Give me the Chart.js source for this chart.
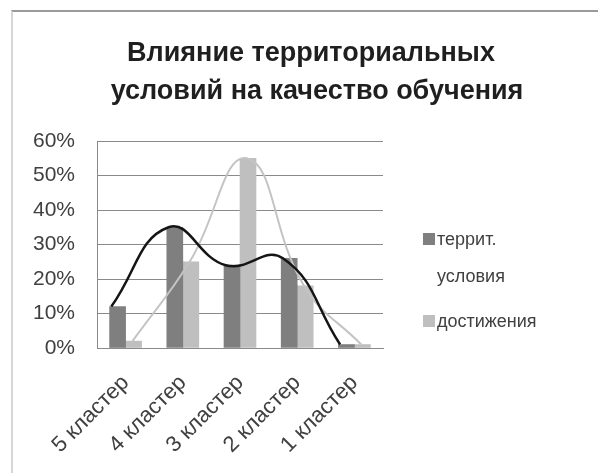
<!DOCTYPE html>
<html>
<head>
<meta charset="utf-8">
<script src="https://cdn.jsdelivr.net/npm/chart.js@4"></script>
<style>
  html, body { margin: 0; padding: 0; background: #fff; }
  #wrap { position: relative; width: 598px; height: 473px; }
  #frame {
    position: absolute; left: 11px; top: 10px; right: 0; bottom: 0;
    border-top: 2px solid #9a9a9a; border-left: 2px solid #d6d6d6;
  }
</style>
</head>
<body>
<div id="wrap">
  <div id="frame"></div>
  <canvas id="myChart" width="598" height="473"></canvas>
</div>
<script>
const categories = ["5 кластер", "4 кластер", "3 кластер", "2 кластер", "1 кластер"];
const terrValues = [12, 35, 24, 26, 1];
const achValues = [2, 25, 55, 18, 1];
const yTicks = [0, 10, 20, 30, 40, 50, 60];
const titleLines = ["Влияние территориальных", "условий на качество обучения"];
const legendLabels = [["террит.", "условия"], ["достижения"]];

const darkGray = "#7f7f7f";
const lightGray = "#bfbfbf";
const font = "'Liberation Sans', Arial, sans-serif";

// smooth lines sit a bit off the category centres, like in the picture
const darkShift = -0.25;
const lightShift = 0.12;

// title + legend drawn by hand so they are not tied to the chart area width
const decorPlugin = {
  id: "decor",
  afterDraw(chart) {
    const ctx = chart.ctx;
    ctx.save();
    ctx.fillStyle = "#1f1f1f";
    ctx.font = "bold 27px " + font;
    ctx.textAlign = "center";
    ctx.textBaseline = "middle";
    ctx.fillText(titleLines[0], 311, 54);
    ctx.fillText(titleLines[1], 317, 92);

    const colors = [darkGray, lightGray];
    const rows = [240, 322];
    ctx.font = "18px " + font;
    ctx.textAlign = "left";
    legendLabels.forEach((lines, i) => {
      ctx.fillStyle = colors[i];
      ctx.fillRect(423, rows[i] - 7, 12, 12);
      ctx.fillStyle = "#404040";
      lines.forEach((t, j) => ctx.fillText(t, 437, rows[i] + j * 37));
    });
    ctx.restore();
  },
};

new Chart(document.getElementById("myChart").getContext("2d"), {
  type: "bar",
  data: {
    labels: categories,
    datasets: [
      {
        type: "line",
        label: "террит. (линия)",
        data: terrValues.map((v, i) => ({ x: i + darkShift, y: v })),
        xAxisID: "xl",
        borderColor: "#151515",
        borderWidth: 2.5,
        pointRadius: 0,
        tension: 0.45,
        fill: false,
        order: 0,
      },
      {
        type: "line",
        label: "достижения (линия)",
        data: achValues.map((v, i) => ({ x: i + lightShift, y: v })),
        xAxisID: "xl",
        borderColor: "#c4c4c4",
        borderWidth: 2,
        pointRadius: 0,
        tension: 0.45,
        fill: false,
        order: 1,
      },
      {
        label: "террит. условия",
        data: terrValues,
        backgroundColor: darkGray,
        barThickness: 16,
        order: 2,
      },
      {
        label: "достижения",
        data: achValues,
        backgroundColor: lightGray,
        barThickness: 16,
        order: 2,
      },
    ],
  },
  options: {
    responsive: false,
    animation: false,
    layout: { padding: { left: 20, right: 215, top: 141, bottom: 0 } },
    plugins: {
      legend: { display: false },
      title: { display: false },
      tooltip: { enabled: false },
    },
    scales: {
      x: {
        grid: { display: false, drawTicks: false },
        border: { color: "#8a8a8a" },
        ticks: {
          color: "#404040",
          font: { size: 22, family: font },
          minRotation: 45,
          maxRotation: 45,
          padding: 22,
        },
        afterFit(scale) {
          scale.height = 125;
        },
      },
      xl: {
        type: "linear",
        display: false,
        offset: false,
        min: -0.5,
        max: 4.5,
      },
      y: {
        min: 0,
        max: 60,
        afterBuildTicks(scale) {
          scale.ticks = yTicks.map((v) => ({ value: v }));
        },
        grid: { color: "#8a8a8a", drawTicks: false },
        border: { color: "#8a8a8a" },
        ticks: {
          color: "#404040",
          font: { size: 21, family: font },
          padding: 22,
          callback: (v) => v + "%",
        },
        afterFit(scale) {
          scale.width = 77;
        },
      },
    },
  },
  plugins: [decorPlugin],
});
</script>
</body>
</html>
